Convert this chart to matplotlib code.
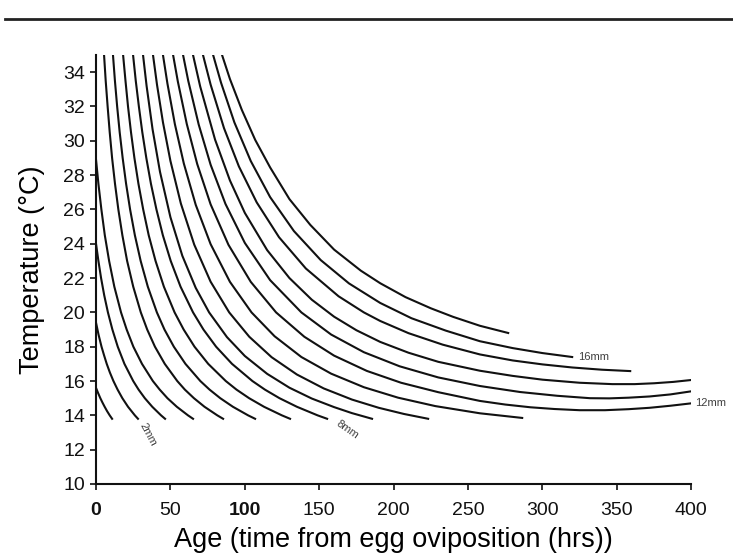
import matplotlib
matplotlib.use('Agg')
import matplotlib.pyplot as plt
from matplotlib.lines import Line2D

# isolines of egg length (mm): age (hrs) vs temperature (C)
age_1 = [0, 1.4, 2.9, 4.3, 5.8, 7.4, 9.2, 10.8]
temp_1 = [15.6, 15.3, 15.0, 14.75, 14.5, 14.25, 14.0, 13.8]
age_2 = [0, 1.7, 3.7, 5.4, 7.2, 9.3, 11.7, 14.5, 17.7, 21.5, 26.1, 28.2]
temp_2 = [19.4, 18.7, 18, 17.5, 17, 16.5, 16, 15.5, 15, 14.5, 14, 13.8]
age_3 = [0, 1.6, 3.4, 5.5, 8.0, 11.0, 14.6, 19.1, 25.0, 28.6, 32.8, 37.8, 43.7, 46.4]
temp_3 = [24.0, 23, 22, 21, 20, 19, 18, 17, 16, 15.5, 15, 14.5, 14, 13.8]
age_4 = [0, 1.6, 3.6, 5.9, 8.8, 12.3, 16.8, 20.6, 25.1, 30.9, 38.2, 42.8, 48.0, 54.3,
         61.8, 65.2]
temp_4 = [28.9, 27.5, 26, 24.5, 23, 21.5, 20, 19, 18, 17, 16, 15.5, 15, 14.5, 14, 13.8]
age_5 = [5.4, 6.5, 7.8, 9.2, 10.8, 12.75, 15.0, 17.7, 20.9, 25.0, 30.1, 34.4, 39.6,
         46.2, 54.6, 59.7, 65.8, 72.9, 81.5, 85.4]
temp_5 = [35, 33.5, 32, 30.5, 29, 27.5, 26, 24.5, 23, 21.5, 20, 19, 18, 17, 16, 15.5,
          15, 14.5, 14, 13.8]
age_6 = [11.4, 12.7, 14.2, 15.9, 17.9, 20.2, 22.9, 26.1, 30.0, 34.8, 40.9, 46.0, 52.3,
         60.1, 70.1, 76.3, 83.5, 92.0, 102.2, 106.9]
temp_6 = temp_5
age_7 = [18.2, 19.8, 21.5, 23.5, 25.8, 28.5, 31.7, 35.4, 40.0, 45.6, 52.8, 58.9, 66.2,
         75.4, 87.2, 94.4, 102.9, 112.9, 124.9, 130.4]
temp_7 = temp_5
age_8 = [24.9, 26.7, 28.8, 31.1, 33.8, 36.9, 40.6, 44.9, 50.2, 56.8, 65.2, 72.2, 80.7,
         91.4, 105.1, 113.5, 123.3, 135.0, 148.9, 155.3]
temp_8 = temp_5
age_9 = [31.6, 34, 38, 43, 50, 58, 67, 76, 88, 100, 115, 130, 145, 160, 172, 185.5]
temp_9 = [35.0, 33.19, 30.67, 28.19, 25.55, 23.3, 21.43, 20.0, 18.56, 17.46, 16.42,
          15.61, 14.98, 14.48, 14.13, 13.8]
age_10 = [38.3, 41, 45, 50, 57, 66, 77, 89.5, 103, 118, 135, 153, 172, 190, 207, 223.2]
temp_10 = [35.0, 33.26, 31.07, 28.83, 26.35, 23.95, 21.79, 20.0, 18.58, 17.39, 16.38,
           15.57, 14.92, 14.44, 14.08, 13.8]
age_11 = [45, 48, 53, 59, 67, 77, 90, 104.5, 120, 138, 158, 180, 203, 228, 258, 286.4]
temp_11 = [35.0, 33.33, 30.97, 28.68, 26.27, 23.98, 21.78, 20.0, 18.61, 17.40, 16.43,
           15.64, 15.03, 14.54, 14.12, 13.85]
age_12 = [51.8, 55, 61, 68, 77, 89, 104, 121, 140, 160, 182, 205, 230, 258, 275, 292,
          308, 325, 342, 358, 372, 386, 400]
temp_12 = [35.0, 33.45, 30.98, 28.65, 26.3, 23.94, 21.78, 20.0, 18.58, 17.48, 16.59,
           15.9, 15.35, 14.84, 14.63, 14.47, 14.37, 14.3, 14.3, 14.36, 14.44, 14.56, 14.7]
age_13 = [58.5, 62, 69, 77, 87, 100, 117, 138, 158, 180, 204, 230, 258, 285, 310, 332,
          345, 358, 372, 386, 400]
temp_13 = [35.0, 33.49, 30.95, 28.61, 26.32, 24.05, 21.88, 20.0, 18.71, 17.68, 16.86,
           16.21, 15.71, 15.36, 15.14, 15.0, 14.99, 15.03, 15.1, 15.22, 15.4]
age_14 = [65.2, 70, 80, 90, 100, 115, 130, 145, 160, 175, 191, 210, 230, 258, 280, 300,
          325, 347, 362, 375, 388, 400]
temp_14 = [35.0, 33.17, 30.07, 27.69, 25.8, 23.63, 22.0, 20.74, 19.75, 18.96, 18.28,
           17.65, 17.12, 16.6, 16.30, 16.08, 15.9, 15.82, 15.82, 15.87, 15.95, 16.06]
age_15 = [71.9, 77, 86, 96, 108, 123, 141, 163, 180, 191, 210, 233, 258, 280, 300, 320,
          340, 359]
temp_15 = [35.0, 33.28, 30.74, 28.51, 26.41, 24.38, 22.56, 20.94, 20.0, 19.5, 18.79,
           18.12, 17.55, 17.2, 16.97, 16.79, 16.66, 16.58]
age_16 = [78.7, 84, 93, 104, 117, 133, 151, 170, 191, 212, 235, 258, 280, 300, 320]
temp_16 = [35.0, 33.39, 31.07, 28.82, 26.72, 24.74, 23.05, 21.69, 20.55, 19.66, 18.94,
           18.32, 17.92, 17.63, 17.4]
age_17 = [84.7, 90, 98, 107, 117, 130, 144, 160, 178, 191, 208, 225, 240, 258, 277]
temp_17 = [35.0, 33.6, 31.8, 30.05, 28.45, 26.6, 25.1, 23.66, 22.43, 21.7, 20.89,
           20.24, 19.74, 19.22, 18.8]

label_text = ['2mm', '8mm', '16mm', '12mm']
label_age = [35, 169, 324, 402.7]
label_temp = [12.9, 13.15, 17.4, 14.72]

x_ticks = [0, 50, 100, 150, 200, 250, 300, 350, 400]
y_ticks = [10, 12, 14, 16, 18, 20, 22, 24, 26, 28, 30, 32, 34]

curves = [
    (age_1, temp_1), (age_2, temp_2), (age_3, temp_3), (age_4, temp_4),
    (age_5, temp_5), (age_6, temp_6), (age_7, temp_7), (age_8, temp_8),
    (age_9, temp_9), (age_10, temp_10), (age_11, temp_11), (age_12, temp_12),
    (age_13, temp_13), (age_14, temp_14), (age_15, temp_15), (age_16, temp_16),
    (age_17, temp_17),
]

plt.rcParams['font.family'] = ['Liberation Sans', 'DejaVu Sans']

fig = plt.figure(figsize=(7.33, 5.53), dpi=100)
ax = fig.add_axes([0.131, 0.1248, 0.812, 0.7757])

for ages, temps in curves:
    ax.plot(ages, temps, color='#111111', lw=1.5, solid_joinstyle='round')

# rotation / alignment of each curve label
label_rot = [-62, -35, 0, 0]
label_ha = ['center', 'center', 'left', 'left']
for text, a, t, rot, ha in zip(label_text, label_age, label_temp, label_rot, label_ha):
    ax.text(a, t, text, fontsize=8, color='#404040', rotation=rot,
            rotation_mode='anchor' if ha == 'left' else 'default',
            ha=ha, va='center', clip_on=False)

ax.set_xlim(0, 400)
ax.set_ylim(10, 35)
ax.set_xticks(x_ticks)
ax.set_yticks(y_ticks)
ax.set_xticklabels([str(v) for v in x_ticks])
ax.set_yticklabels([str(v) for v in y_ticks])
for lab in ax.get_xticklabels():
    if lab.get_text() in ('0', '100'):
        lab.set_fontweight('bold')

for side in ('top', 'right'):
    ax.spines[side].set_visible(False)
for side in ('left', 'bottom'):
    ax.spines[side].set_linewidth(1.5)
    ax.spines[side].set_color('#111111')

ax.tick_params(axis='both', direction='out', length=4, width=1.2, labelsize=14,
               colors='#111111')
ax.tick_params(axis='x', pad=9)
ax.tick_params(axis='y', pad=4)

ax.set_xlabel('Age (time from egg oviposition (hrs))', fontsize=19.5, labelpad=6)
ax.set_ylabel('Temperature (\u00b0C)', fontsize=19.5, labelpad=13)

# rule across the top of the page
fig.add_artist(Line2D([0.007, 1.0], [0.9665, 0.9665], transform=fig.transFigure,
                      color='#222222', lw=2))

fig.savefig('out.png', dpi=100)
